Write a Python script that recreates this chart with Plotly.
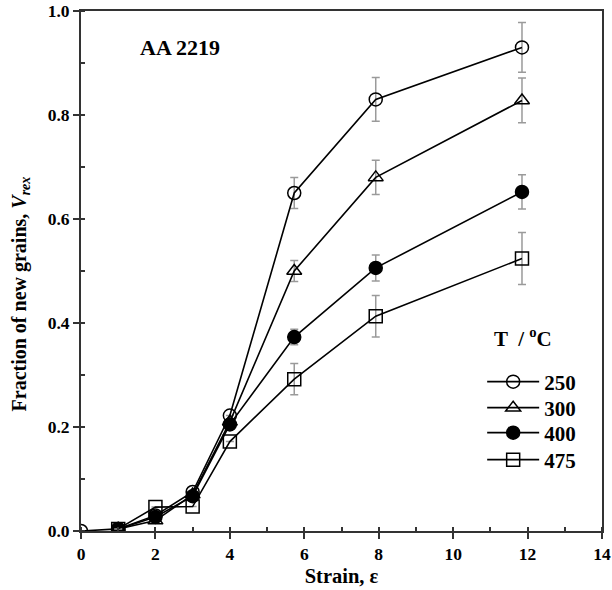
import plotly.graph_objects as go

# Strain values and recrystallised fractions for each deformation temperature
temps = ["250", "300", "400", "475"]

strain_250 = [0, 1, 2, 3, 4, 5.73, 7.92, 11.85]
frac_250 = [0.0, 0.004, 0.03, 0.075, 0.222, 0.650, 0.830, 0.930]
err_250 = [None, None, None, None, None, 0.030, 0.042, 0.048]

strain_300 = [1, 2, 3, 4, 5.73, 7.92, 11.85]
frac_300 = [0.004, 0.02, 0.07, 0.21, 0.500, 0.680, 0.828]
err_300 = [None, None, None, None, 0.020, 0.033, 0.043]

strain_400 = [1, 2, 3, 4, 5.73, 7.92, 11.85]
frac_400 = [0.004, 0.027, 0.067, 0.205, 0.373, 0.506, 0.652]
err_400 = [None, None, None, None, 0.015, 0.025, 0.033]

strain_475 = [1, 2, 3, 4, 5.73, 7.92, 11.85]
frac_475 = [0.004, 0.046, 0.047, 0.172, 0.292, 0.413, 0.524]
err_475 = [None, None, None, None, 0.030, 0.040, 0.050]

x_ticks = [0, 2, 4, 6, 8, 10, 12, 14]
y_ticks = [0.0, 0.2, 0.4, 0.6, 0.8, 1.0]

series = [
    (temps[0], strain_250, frac_250, err_250, "circle-open"),
    (temps[1], strain_300, frac_300, err_300, "triangle-up-open"),
    (temps[2], strain_400, frac_400, err_400, "circle"),
    (temps[3], strain_475, frac_475, err_475, "square-open"),
]

FONT = "Liberation Serif"
legend_ids = ["legend", "legend2", "legend3", "legend4"]
legend_y = [0.2865, 0.2365, 0.1885, 0.1365]

fig = go.Figure()
for (name, xs, ys, errs, sym), lid in zip(series, legend_ids):
    fig.add_trace(go.Scatter(
        x=xs, y=ys, name=name, mode="lines+markers", legend=lid,
        line=dict(color="black", width=1.6),
        marker=dict(symbol=sym, size=13, color="black",
                    line=dict(color="black", width=1.5)),
        error_y=dict(type="data", array=errs, visible=True,
                     color="#9a9a9a", thickness=1.5, width=4),
    ))

fig.add_annotation(
    x=2.66, y=0.93, xref="x", yref="y", text="AA 2219", showarrow=False,
    font=dict(family=FONT, size=22, color="black", weight="bold"),
)

# legend heading
fig.add_annotation(
    x=0.789, y=0.373, xref="paper", yref="paper", xanchor="left",
    yanchor="middle", text="T  / <sup>o</sup>C", showarrow=False,
    font=dict(family=FONT, size=21, color="black", weight="bold"),
)

# y-axis title
fig.add_annotation(
    x=-0.117, y=0.455, xref="paper", yref="paper", textangle=-90,
    xanchor="center", yanchor="middle", showarrow=False,
    text="Fraction of new grains, <i>V</i><sub><i>rex</i></sub>",
    font=dict(family=FONT, size=20, color="black", weight="bold"),
)

axis_common = dict(
    showline=True, linecolor="#333", linewidth=2, mirror=True,
    ticks="outside", ticklen=6, tickwidth=1.5, tickcolor="#333",
    showgrid=False, zeroline=False, automargin=False,
    tickfont=dict(family=FONT, size=17.5, color="black", weight="bold"),
)

fig.update_xaxes(
    range=[0, 14], tickvals=x_ticks,
    minor=dict(ticks="inside", ticklen=4, dtick=1, tickcolor="#333"),
    title=dict(text="Strain, ε", standoff=6,
               font=dict(family=FONT, size=20.5, color="black", weight="bold")),
    **axis_common,
)
fig.update_yaxes(
    range=[0, 1.0], tickvals=y_ticks, tickformat=".1f",
    minor=dict(ticks="inside", ticklen=4, dtick=0.1, tickcolor="#333"),
    **axis_common,
)

legend_style = dict(
    x=0.77, xanchor="left", yanchor="middle",
    bgcolor="rgba(0,0,0,0)",
    font=dict(family=FONT, size=21, color="black", weight="bold"),
    itemwidth=52,
)

fig.update_layout(
    width=612, height=590,
    margin=dict(l=81, r=10, t=11, b=59),
    paper_bgcolor="white", plot_bgcolor="white",
    showlegend=True,
    legend=dict(y=legend_y[0], **legend_style),
    legend2=dict(y=legend_y[1], **legend_style),
    legend3=dict(y=legend_y[2], **legend_style),
    legend4=dict(y=legend_y[3], **legend_style),
)

fig.write_html("out.html")
